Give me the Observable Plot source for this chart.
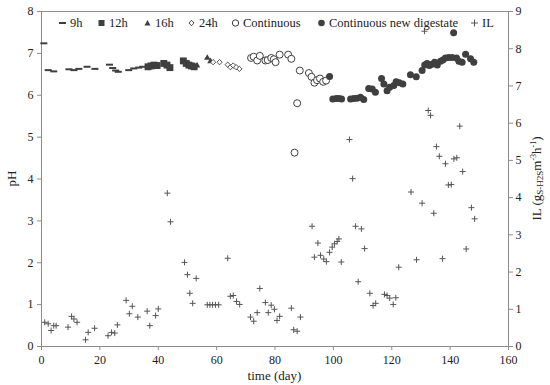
<!DOCTYPE html>
<html>
<head>
<meta charset="utf-8">
<script src="https://cdn.jsdelivr.net/npm/d3@7"></script>
<script src="https://cdn.jsdelivr.net/npm/@observablehq/plot@0.6"></script>
<style>
  html, body { margin: 0; padding: 0; background: #fff; }
  #wrap { position: relative; width: 550px; height: 385px; font-family: "Liberation Serif", "DejaVu Serif", serif; }
  #legend { position: absolute; top: 15px; left: 0; width: 550px; height: 16px; font-size: 12.5px; color: #222; }
  .li { position: absolute; top: 0; display: flex; align-items: center; height: 16px; white-space: nowrap; }
  .li svg { margin-right: 3px; }
</style>
</head>
<body>
<div id="wrap"><div id="chart"></div><div id="legend"></div></div>
<script>
// ---- Data ----
const h9Day = [0.8, 2.3, 4.2, 9.4, 11.1, 12.8, 15.6, 18.3, 23.3, 24.4, 25.4, 26.3, 29.9, 31.6, 33.3, 34.7];
const h9pH  = [7.24, 6.60, 6.57, 6.62, 6.60, 6.63, 6.68, 6.63, 6.73, 6.65, 6.59, 6.56, 6.60, 6.64, 6.66, 6.68];

const h12Day = [36.5, 37.5, 38.5, 39.6, 41.9, 43.0, 44.0, 48.6, 49.6, 50.5, 51.4, 52.3];
const h12pH  = [6.68, 6.70, 6.72, 6.71, 6.76, 6.72, 6.66, 6.82, 6.76, 6.72, 6.70, 6.68];

const h16Day = [53.3, 56.8, 57.9];
const h16pH  = [6.71, 6.89, 6.81];

const h24Day = [58.8, 61.0, 63.8, 64.7, 65.7, 66.7, 67.8];
const h24pH  = [6.79, 6.79, 6.73, 6.67, 6.71, 6.67, 6.63];

const contDay = [71.8, 72.7, 73.9, 74.8, 76.7, 77.5, 78.7, 79.6, 80.2, 81.6, 84.5, 85.6, 86.7, 87.6, 88.5, 91.6, 92.5, 93.5, 94.4, 95.4, 96.5, 97.5];
const contpH  = [6.89, 6.92, 6.83, 6.94, 6.83, 6.84, 6.89, 6.86, 6.79, 6.97, 6.97, 6.87, 4.63, 5.81, 6.59, 6.53, 6.44, 6.30, 6.36, 6.40, 6.32, 6.35];

const newDay = [98.7, 99.8, 101.0, 101.9, 102.8, 105.9, 107.0, 108.1, 109.3, 110.4, 112.1, 113.3, 114.4, 116.5, 117.3, 118.4, 119.3, 120.7, 121.5, 122.6, 123.8, 126.4, 128.4, 130.4, 131.3, 132.1, 132.9, 133.8, 134.7, 135.6, 136.7, 137.5, 138.4, 139.5, 140.7, 141.2, 142.2, 143.0, 144.1, 145.3, 147.0, 148.1];
const newpH  = [6.45, 5.91, 5.92, 5.92, 5.91, 5.91, 5.92, 5.93, 5.95, 5.90, 6.16, 6.15, 6.07, 6.40, 6.27, 6.11, 6.19, 6.23, 6.32, 6.30, 6.27, 6.49, 6.44, 6.59, 6.72, 6.76, 6.71, 6.74, 6.79, 6.72, 6.81, 6.84, 6.89, 6.90, 6.90, 7.49, 6.89, 6.81, 6.79, 6.98, 6.87, 6.79];

const ilDay = [1.1, 2.3, 3.3, 4.2, 5.0, 9.1, 10.3, 11.1, 12.2, 15.1, 16.0, 18.2, 22.8, 24.0, 25.1, 26.0, 29.0, 30.1, 31.1, 33.0, 36.2, 37.1, 39.1, 40.0, 43.1, 44.2, 49.0, 50.0, 50.8, 51.8, 53.0, 56.8, 57.7, 58.6, 59.6, 60.7, 63.8, 64.7, 65.7, 66.8, 67.9, 71.6, 72.7, 73.9, 74.8, 76.7, 77.7, 78.7, 79.8, 80.7, 81.6, 85.6, 86.4, 87.6, 88.7, 92.7, 93.5, 94.7, 95.6, 96.7, 97.6, 98.7, 99.6, 100.4, 101.3, 101.9, 102.7, 105.5, 106.6, 107.6, 108.5, 109.6, 110.7, 112.5, 113.6, 114.5, 117.5, 118.4, 119.3, 120.5, 121.4, 122.4, 126.6, 128.5, 130.4, 131.2, 132.5, 133.3, 134.4, 135.3, 136.3, 137.4, 138.4, 139.4, 140.4, 141.3, 142.3, 143.3, 144.3, 145.5, 147.3, 148.4];
const ilVal = [0.65, 0.61, 0.43, 0.56, 0.56, 0.52, 0.81, 0.74, 0.65, 0.18, 0.38, 0.49, 0.29, 0.38, 0.36, 0.58, 1.24, 0.88, 1.08, 0.79, 0.95, 0.56, 0.83, 1.01, 4.12, 3.35, 2.26, 1.93, 1.43, 1.16, 1.83, 1.12, 1.12, 1.12, 1.12, 1.12, 2.37, 1.35, 1.37, 1.21, 1.13, 0.79, 0.68, 0.91, 1.56, 1.18, 0.91, 1.11, 1.00, 0.70, 0.81, 1.03, 0.45, 0.41, 0.79, 3.23, 2.40, 2.78, 2.45, 2.35, 2.28, 2.53, 2.67, 2.76, 2.82, 2.89, 2.27, 5.56, 4.51, 3.23, 1.74, 3.16, 2.63, 1.43, 1.10, 1.16, 1.40, 1.37, 1.30, 1.13, 1.31, 2.13, 4.15, 2.33, 3.85, 8.47, 6.34, 6.21, 3.58, 5.37, 5.11, 2.36, 4.91, 4.34, 4.35, 5.04, 5.07, 5.92, 4.70, 2.62, 3.73, 3.43];

const xTicks = [0, 20, 40, 60, 80, 100, 120, 140, 160];
const pHTicks = [0, 1, 2, 3, 4, 5, 6, 7, 8];
const ilTicks = [0, 1, 2, 3, 4, 5, 6, 7, 8, 9];

// ---- Build tables ----
const zip = (a, b) => a.map((d, i) => ({x: d, y: b[i]}));
const PH_MAX = 8, IL_MAX = 9;
const toLeft = v => v * PH_MAX / IL_MAX;  // IL mapped onto the shared y scale

const dark = "#3f3f3f";
const axisCol = "#8c8c8c";

const dashSymbol = {
  draw(ctx) {
    ctx.moveTo(-3.5, -1); ctx.lineTo(3.5, -1); ctx.lineTo(3.5, 1); ctx.lineTo(-3.5, 1); ctx.closePath();
  }
};

const W = 550, H = 385;
const mL = 41, mR = 42, mT = 11, mB = 39;

const plot = Plot.plot({
  width: W, height: H,
  marginLeft: mL, marginRight: mR, marginTop: mT, marginBottom: mB,
  style: {fontFamily: "'Liberation Serif', serif", fontSize: "12px", color: "#222", background: "#fff"},
  x: {domain: [0, 160]},
  y: {domain: [0, 8]},
  marks: [
    Plot.frame({stroke: axisCol, strokeWidth: 1}),
    Plot.axisX({ticks: xTicks, tickSize: 4, tickPadding: 5, stroke: axisCol, label: null, fontSize: 12}),
    Plot.axisY({ticks: pHTicks, tickSize: 4, tickPadding: 4, stroke: axisCol, label: null, fontSize: 12}),
    Plot.axisY(ilTicks.map(toLeft), {anchor: "right", tickSize: 4, tickPadding: 3, stroke: axisCol, label: null,
      tickFormat: d => String(Math.round(d * IL_MAX / PH_MAX)), fontSize: 12}),
    Plot.dot(zip(ilDay, ilVal), {x: "x", y: d => toLeft(d.y), symbol: "plus", r: 2.1, stroke: "#555", strokeWidth: 1}),
    Plot.dot(zip(h9Day, h9pH), {x: "x", y: "y", symbol: dashSymbol, r: 3, fill: dark, stroke: "none"}),
    Plot.dot(zip(h12Day, h12pH), {x: "x", y: "y", symbol: "square", r: 3.9, fill: dark, stroke: "none"}),
    Plot.dot(zip(h16Day, h16pH), {x: "x", y: "y", symbol: "triangle", r: 2.4, fill: dark, stroke: "none"}),
    Plot.dot(zip(h24Day, h24pH), {x: "x", y: "y", symbol: "diamond2", r: 2.4, stroke: dark, strokeWidth: 0.9, fill: "#fff"}),
    Plot.dot(zip(contDay, contpH), {x: "x", y: "y", symbol: "circle", r: 3.5, stroke: dark, strokeWidth: 1, fill: "#fff"}),
    Plot.dot(zip(newDay, newpH), {x: "x", y: "y", symbol: "circle", r: 3.5, fill: dark, stroke: "none"})
  ]
});
document.getElementById("chart").appendChild(plot);

// ---- Axis titles ----
const svg = d3.select(plot);
const midY = mT + (H - mT - mB) / 2;
svg.append("text").attr("transform", `translate(13,${midY}) rotate(-90)`)
  .attr("text-anchor", "middle").attr("dominant-baseline", "middle")
  .attr("font-size", 13).attr("fill", "#222").text("pH");
svg.append("text").attr("x", mL + (W - mL - mR) / 2).attr("y", 380)
  .attr("text-anchor", "middle").attr("font-size", 13).attr("fill", "#222").text("time (day)");
const ilT = svg.append("text").attr("transform", `translate(538,${midY}) rotate(-90)`)
  .attr("text-anchor", "middle").attr("dominant-baseline", "middle")
  .attr("font-size", 13).attr("fill", "#222");
ilT.append("tspan").text("IL (g");
ilT.append("tspan").attr("font-size", 9).attr("dy", 3).text("S-H2S");
ilT.append("tspan").attr("dy", -3).text("m");
ilT.append("tspan").attr("font-size", 8).attr("dy", -4).text("-3");
ilT.append("tspan").attr("dy", 4).text("h");
ilT.append("tspan").attr("font-size", 8).attr("dy", -4).text("-1");
ilT.append("tspan").attr("dy", 4).text(")");

// ---- Legend ----
const legendItems = [
  {label: "9h", left: 58, sym: `<rect x="1" y="4" width="7" height="2" fill="${dark}"/>`},
  {label: "12h", left: 97, sym: `<rect x="1.5" y="2" width="6" height="6" fill="${dark}"/>`},
  {label: "16h", left: 143, sym: `<path d="M4.5 2 L7.5 7.5 L1.5 7.5 Z" fill="${dark}"/>`},
  {label: "24h", left: 187, sym: `<path d="M4.5 2.2 L7 5 L4.5 7.8 L2 5 Z" fill="#fff" stroke="${dark}" stroke-width="0.9"/>`},
  {label: "Continuous", left: 231, sym: `<circle cx="4.5" cy="5" r="3.2" fill="#fff" stroke="${dark}"/>`},
  {label: "Continuous new digestate", left: 317, sym: `<circle cx="4.5" cy="5" r="3.3" fill="${dark}"/>`},
  {label: "IL", left: 470, sym: `<path d="M1 5 H8 M4.5 1.5 V8.5" stroke="#555" stroke-width="1"/>`}
];
const leg = document.getElementById("legend");
legendItems.forEach(it => {
  const el = document.createElement("div");
  el.className = "li";
  el.style.left = it.left + "px";
  el.innerHTML = `<svg width="9" height="10" viewBox="0 0 9 10">${it.sym}</svg><span>${it.label}</span>`;
  leg.appendChild(el);
});
</script>
</body>
</html>
